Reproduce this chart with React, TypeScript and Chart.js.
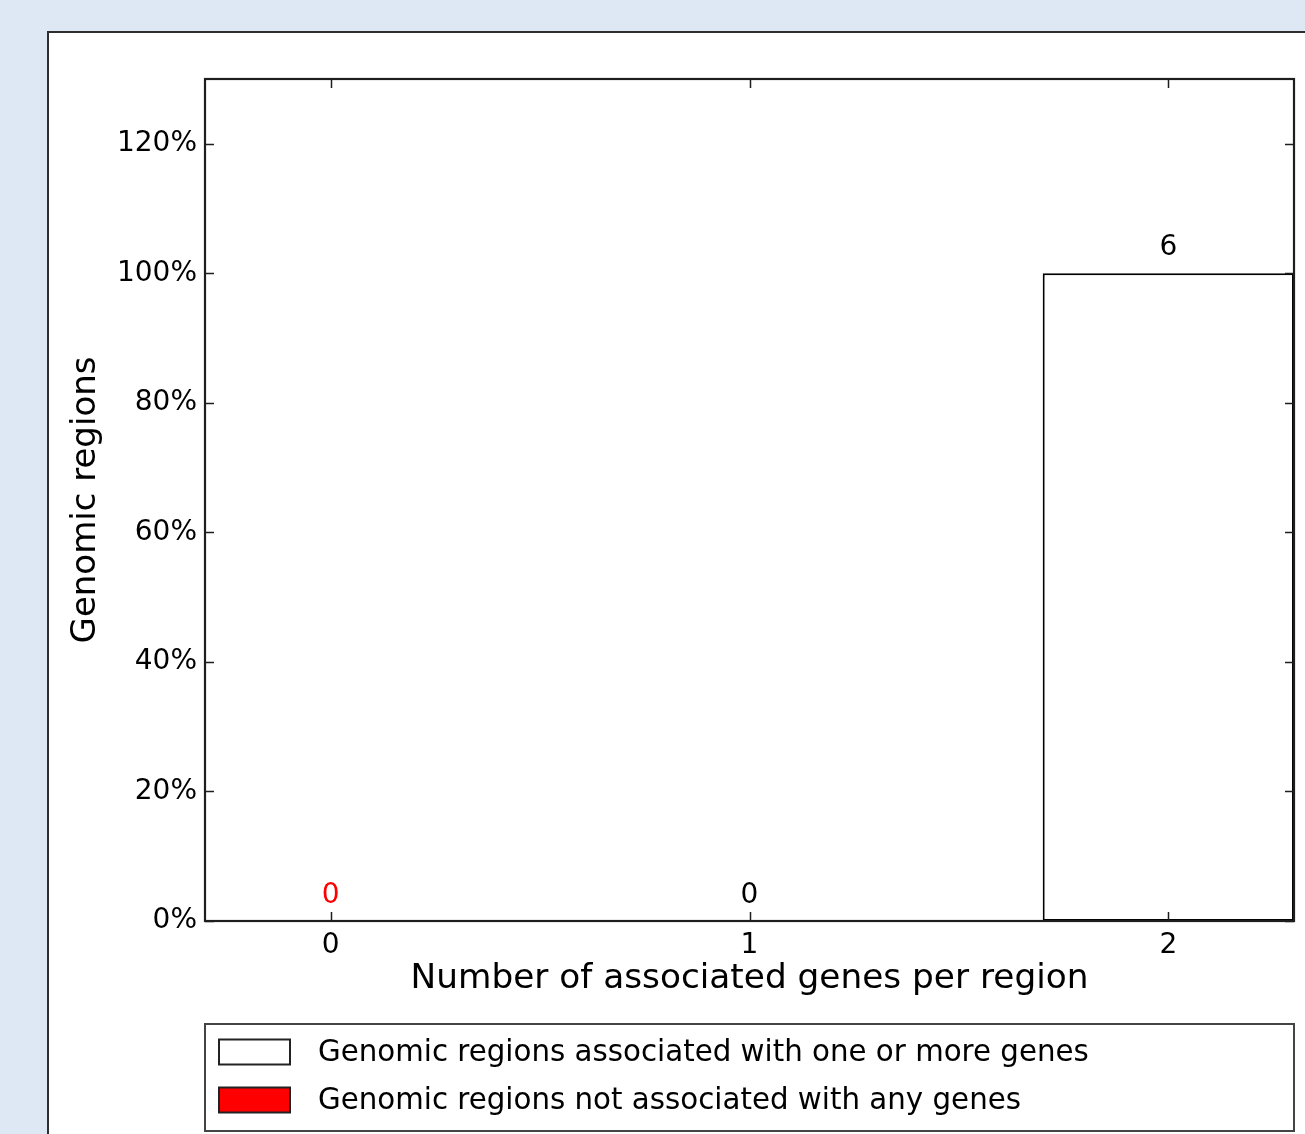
import React, { useEffect, useRef } from 'react';
import { Chart, registerables } from 'chart.js';

Chart.register(...registerables);

// ---- data ----
const geneCounts = [0, 1, 2];
const regionCounts = [0, 0, 6];
const regionPercents = [0, 0, 100];
const isAssociated = [false, true, true];
const seriesLabels = [
  'Genomic regions associated with one or more genes',
  'Genomic regions not associated with any genes',
];
const seriesFills = ['#ffffff', '#ff0000'];
const labelColors = ['#000000', '#ff0000'];
const xTitle = 'Number of associated genes per region';
const yTitle = 'Genomic regions';
const yMax = 130;
const yStep = 20;
const xMin = -0.3;
const xMax = 2.3;

const FONT = '"DejaVu Sans", "Bitstream Vera Sans", sans-serif';

const framePlugin = {
  id: 'mplFrame',
  afterDatasetsDraw(chart: any) {
    const { ctx, chartArea: a } = chart;
    const xs = chart.scales.x;
    const ys = chart.scales.y;
    ctx.save();
    // zero-height bar outlines along the baseline
    ctx.strokeStyle = '#000000';
    ctx.lineWidth = 2;
    chart.data.datasets.forEach((ds: any, di: number) => {
      const meta = chart.getDatasetMeta(di);
      meta.data.forEach((el: any, i: number) => {
        if (ds.data[i].y === 0) {
          const w = el.width;
          ctx.beginPath();
          ctx.moveTo(Math.max(a.left, el.x - w / 2), el.y);
          ctx.lineTo(Math.min(a.right, el.x + w / 2), el.y);
          ctx.stroke();
        }
      });
    });
    // data labels
    ctx.font = `28px ${FONT}`;
    ctx.textAlign = 'center';
    ctx.textBaseline = 'alphabetic';
    chart.data.datasets.forEach((ds: any, di: number) => {
      const meta = chart.getDatasetMeta(di);
      meta.data.forEach((el: any, i: number) => {
        ctx.fillStyle = labelColors[di];
        ctx.fillText(String(ds.data[i].count), el.x, el.y - 18);
      });
    });
    // frame
    ctx.strokeStyle = '#1e1e1e';
    ctx.lineWidth = 2.2;
    ctx.strokeRect(a.left, a.top, a.right - a.left, a.bottom - a.top);
    // inward ticks
    ctx.lineWidth = 1.5;
    const tl = 9;
    ctx.beginPath();
    xs.ticks.forEach((t: any) => {
      const px = Math.round(xs.getPixelForValue(t.value)) + 0.5;
      ctx.moveTo(px, a.bottom);
      ctx.lineTo(px, a.bottom - tl);
      ctx.moveTo(px, a.top);
      ctx.lineTo(px, a.top + tl);
    });
    ys.ticks.forEach((t: any) => {
      const py = Math.round(ys.getPixelForValue(t.value)) + 0.5;
      ctx.moveTo(a.left, py);
      ctx.lineTo(a.left + tl, py);
      ctx.moveTo(a.right, py);
      ctx.lineTo(a.right - tl, py);
    });
    ctx.stroke();
    ctx.restore();
  },
  afterDraw(chart: any) {
    const { ctx, chartArea: a } = chart;
    const xs = chart.scales.x;
    const top = xs.bottom + 24;
    const h = 107;
    ctx.save();
    ctx.fillStyle = '#ffffff';
    ctx.fillRect(a.left, top, a.right - a.left, h);
    ctx.strokeStyle = '#444444';
    ctx.lineWidth = 2;
    ctx.strokeRect(a.left, top, a.right - a.left, h);
    ctx.font = `29.3px ${FONT}`;
    ctx.textAlign = 'left';
    ctx.textBaseline = 'middle';
    chart.data.datasets.forEach((ds: any, i: number) => {
      const cy = top + 28 + i * 48;
      ctx.fillStyle = ds.backgroundColor;
      ctx.fillRect(a.left + 14, cy - 12.5, 71, 25);
      ctx.strokeStyle = '#222222';
      ctx.lineWidth = 2;
      ctx.strokeRect(a.left + 14, cy - 12.5, 71, 25);
      ctx.fillStyle = '#000000';
      ctx.fillText(ds.label, a.left + 113, cy + 1);
    });
    ctx.restore();
  },
};

function buildSeries(flag: boolean) {
  return geneCounts
    .map((g, i) => ({ x: g, y: regionPercents[i], count: regionCounts[i], a: isAssociated[i] }))
    .filter((p) => p.a === flag)
    .map((p) => ({ x: p.x, y: p.y, count: p.count }));
}

export default function App() {
  const ref = useRef<HTMLCanvasElement | null>(null);

  useEffect(() => {
    if (!ref.current) return;
    const chart = new Chart(ref.current, {
      type: 'bar',
      data: {
        datasets: [
          {
            label: seriesLabels[0],
            data: buildSeries(true) as any,
            backgroundColor: seriesFills[0],
            borderColor: '#000000',
            borderWidth: 2,
            borderSkipped: false,
            grouped: false,
            categoryPercentage: 1,
            barPercentage: 0.6,
          } as any,
          {
            label: seriesLabels[1],
            data: buildSeries(false) as any,
            backgroundColor: seriesFills[1],
            borderColor: '#000000',
            borderWidth: 2,
            borderSkipped: false,
            grouped: false,
            categoryPercentage: 1,
            barPercentage: 0.6,
          } as any,
        ],
      },
      options: {
        animation: false,
        responsive: false,
        maintainAspectRatio: false,
        devicePixelRatio: 1,
        layout: { padding: { left: 0, right: 11, top: 79, bottom: 134 } },
        plugins: {
          legend: { display: false },
          tooltip: { enabled: false },
        },
        scales: {
          x: {
            type: 'linear',
            offset: false,
            min: xMin,
            max: xMax,
            grid: { display: false, drawTicks: false, offset: false },
            border: { display: false },
            ticks: {
              stepSize: 1,
              includeBounds: false,
              padding: 8,
              color: '#000000',
              font: { family: FONT, size: 28 },
              callback: (v: any) => String(v),
            },
            title: {
              display: true,
              text: xTitle,
              color: '#000000',
              font: { family: FONT, size: 34.3 },
              padding: { top: 0, bottom: 0 },
            },
            afterFit: (s: any) => {
              s.height = 79;
            },
          },
          y: {
            type: 'linear',
            min: 0,
            max: yMax,
            grid: { display: false, drawTicks: false },
            border: { display: false },
            ticks: {
              stepSize: yStep,
              includeBounds: false,
              padding: 8,
              color: '#000000',
              font: { family: FONT, size: 28 },
              callback: (v: any) => `${v}%`,
            },
            title: {
              display: true,
              text: yTitle,
              color: '#000000',
              font: { family: FONT, size: 34 },
              padding: { top: 66, bottom: 0 },
            },
            afterFit: (s: any) => {
              s.width = 205;
            },
          },
        },
      } as any,
      plugins: [framePlugin],
    });
    return () => chart.destroy();
  }, []);

  return (
    <div
      style={{
        position: 'fixed',
        left: 0,
        top: 0,
        width: 1305,
        height: 1134,
        overflow: 'hidden',
        background: '#dde8f4',
      }}
    >
      <div
        style={{
          position: 'absolute',
          left: 47,
          top: 31,
          width: 1400,
          height: 1300,
          background: '#ffffff',
          border: '2px solid #2e2e2e',
          boxSizing: 'border-box',
        }}
      />
      <canvas
        ref={ref}
        width={1305}
        height={1134}
        style={{ position: 'absolute', left: 0, top: 0, width: 1305, height: 1134, display: 'block' }}
      />
    </div>
  );
}
